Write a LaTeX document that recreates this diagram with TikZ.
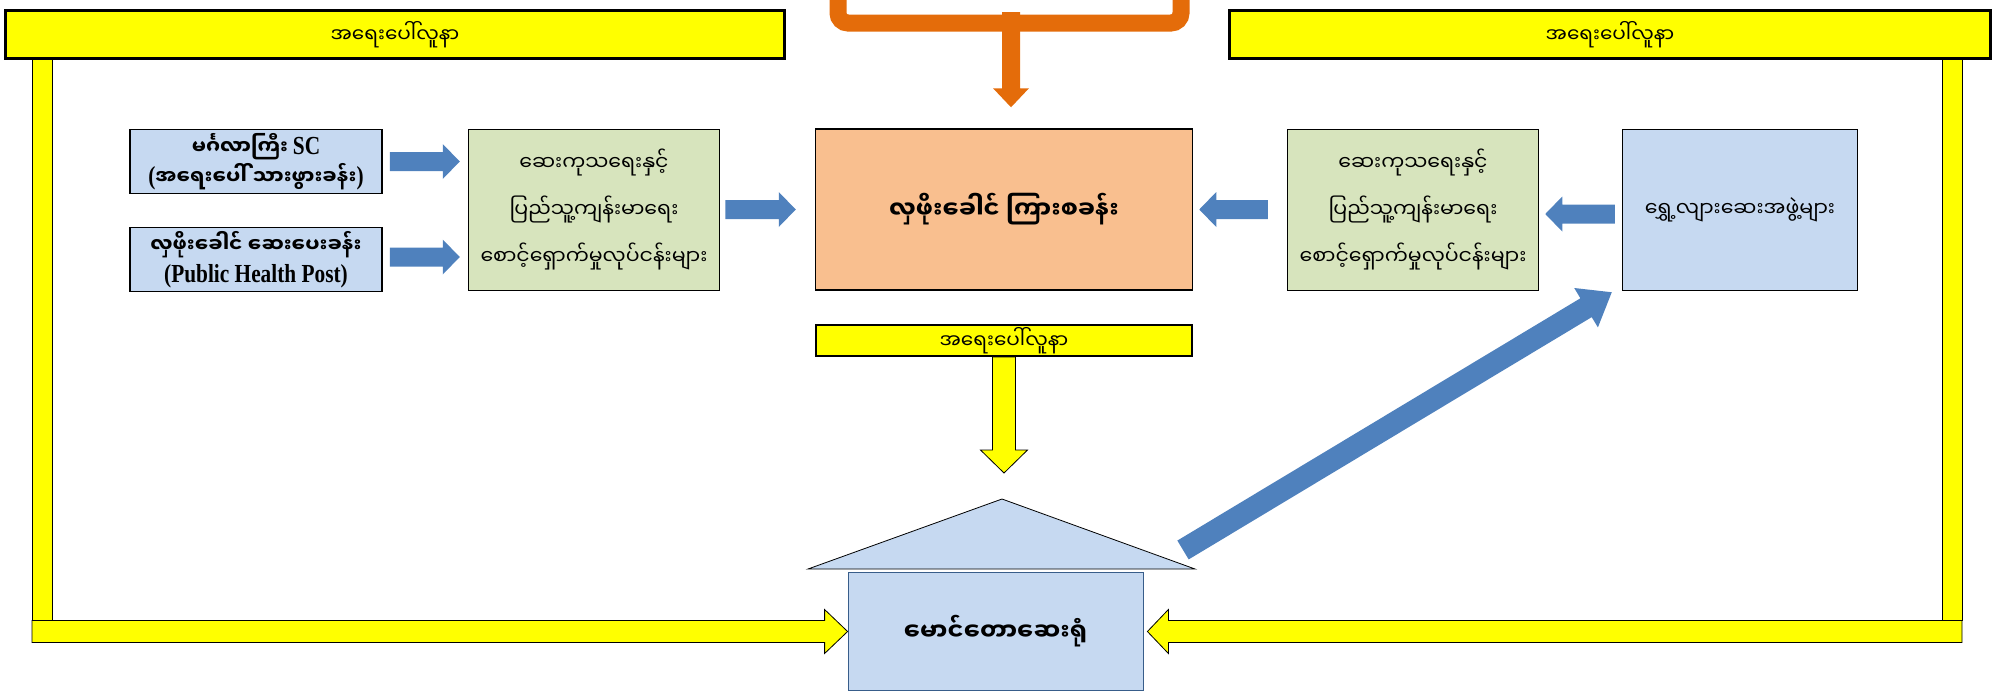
\documentclass[tikz,border=0pt]{standalone}
\usepackage{fontspec}
\setmainfont{Liberation Serif}
\newfontfamily\mm[Script=Myanmar]{Noto Sans Myanmar UI}
\newfontfamily\latn[FakeStretch=0.82]{Liberation Serif}
\usetikzlibrary{calc}

\definecolor{ylw}{HTML}{FFFF00}
\definecolor{boxblue}{HTML}{C6D9F1}
\definecolor{boxgreen}{HTML}{D7E4BD}
\definecolor{boxpeach}{HTML}{F9BF8F}
\definecolor{brkorange}{HTML}{E46C0A}
\definecolor{arrblue}{HTML}{4F81BD}
\definecolor{hospline}{HTML}{385D8A}

% block arrow: style, from, to, half bar, half head, head length
\newcommand{\blockarr}[6]{%
  \path[#1] ($#2!#4!90:#3$) -- ($#3!#6!#2!#4!90:#3$) -- ($#3!#6!#2!#5!90:#3$) -- #3
    -- ($#3!#6!#2!#5!-90:#3$) -- ($#3!#6!#2!#4!-90:#3$) -- ($#2!#4!-90:#3$) -- cycle;}
\newcommand{\lt}[1]{{\latn\fontsize{26}{30}\selectfont #1}}

\tikzset{
  banner/.style={draw=black, line width=2.5pt, fill=ylw, minimum height=48pt, inner sep=0pt, font=\mm\fontsize{20}{24}\selectfont},
  smallban/.style={draw=black, line width=2pt, fill=ylw, minimum width=376pt, minimum height=31pt, inner sep=0pt, font=\mm\fontsize{20}{24}\selectfont},
  bluebox/.style={draw=black, line width=1.5pt, fill=boxblue, minimum width=252pt, minimum height=64pt, inner sep=0pt, align=center, font=\bfseries\fontsize{20}{30}\selectfont},
  greenbox/.style={draw=black, line width=1.5pt, fill=boxgreen, minimum width=251pt, minimum height=161pt, inner sep=0pt, align=center, font=\mm\fontsize{20.5}{47}\selectfont},
  campbox/.style={draw=black, line width=1.5pt, fill=boxpeach, minimum width=377pt, minimum height=161pt, inner sep=0pt, font=\mm\bfseries\fontsize{24}{28}\selectfont},
  mobilebox/.style={draw=black, line width=1.5pt, fill=boxblue, minimum width=235pt, minimum height=161pt, inner sep=0pt, font=\mm\fontsize{20.5}{24}\selectfont},
  hospbox/.style={draw=hospline, line width=0.8pt, fill=boxblue, minimum width=295pt, minimum height=118pt, inner sep=0pt, font=\mm\bfseries\fontsize{24}{28}\selectfont},
  roof/.style={draw=black, line width=0.8pt, fill=boxblue},
  brk/.style={draw=brkorange, line width=17pt, rounded corners=10pt},
  org/.style={fill=brkorange},
  blu/.style={fill=arrblue},
  yel/.style={draw=black, line width=0.8pt, fill=ylw}
}

\begin{document}
\begin{tikzpicture}[x=1pt,y=-1pt]
\clip (0,0) rectangle (1993,699);
% bracket at the top
\draw[brk] (838,-30) -- (838,23) -- (1181,23) -- (1181,-30);
\coordinate (ostart) at (1011,12);

\node[banner, minimum width=779pt] (lban) at (395,34.5) {အရေးပေါ်လူနာ};
\node[banner, minimum width=761pt] (rban) at (1610,34.5) {အရေးပေါ်လူနာ};

\node[bluebox] (sc) at (256,161.5) {{\mm မင်္ဂလာကြီး} \lt{SC}\\\lt{(}{\mm အရေးပေါ် သားဖွားခန်း}\lt{)}};
\node[bluebox] (php) at (256,259.5) {{\mm လှဖိုးခေါင် ဆေးပေးခန်း}\\\lt{(Public Health Post)}};
\node[greenbox] (grl) at (594,210) {ဆေးကုသရေးနှင့်\\ပြည်သူ့ကျန်းမာရေး\\စောင့်ရှောက်မှုလုပ်ငန်းများ};
\node[campbox] (camp) at (1004,209.5) {လှဖိုးခေါင် ကြားစခန်း};
\node[greenbox] (grr) at (1413,210) {ဆေးကုသရေးနှင့်\\ပြည်သူ့ကျန်းမာရေး\\စောင့်ရှောက်မှုလုပ်ငန်းများ};
\node[mobilebox] (mobile) at (1740,210) {ရွှေ့လျားဆေးအဖွဲ့များ};
\node[smallban] (sban) at (1004,340.5) {အရေးပေါ်လူနာ};

% house
\coordinate (apex) at (1002,499);
\coordinate (eaveL) at (808,569);
\coordinate (eaveR) at (1195,569);
\draw[roof] (eaveL) -- (apex) -- (eaveR) -- cycle;
\node[hospbox] (hosp) at (995.5,631.5) {မောင်တောဆေးရုံ};

% blue arrows
\coordinate (a1) at ([xshift=7pt]sc.east);
\coordinate (b1) at ([xshift=-8pt]grl.west |- a1);
\coordinate (a2) at ([xshift=7pt,yshift=2.5pt]php.east);
\coordinate (b2) at ([xshift=-8pt]grl.west |- a2);
\coordinate (a3) at ([xshift=5pt]grl.east |- camp.west);
\coordinate (b3) at ([xshift=-19pt]camp.west);
\coordinate (a4) at ([xshift=-19pt]grr.west |- camp.east);
\coordinate (b4) at ([xshift=6pt]camp.east);
\coordinate (a5) at ([xshift=-7pt,yshift=-4pt]mobile.west);
\coordinate (b5) at ([xshift=6pt]grr.east |- a5);
\foreach \s/\t in {a1/b1,a2/b2,a3/b3,a4/b4,a5/b5}
  \blockarr{blu}{(\s)}{(\t)}{9.5pt}{17.5pt}{17pt};
\coordinate (dstart) at ([xshift=-12pt,yshift=19pt]eaveR);
\coordinate (dtip) at ([xshift=-10pt,yshift=-1pt]mobile.south west);
\blockarr{blu}{(dstart)}{(dtip)}{11pt}{23pt}{30pt};

% orange arrow
\coordinate (otip) at ([xshift=7pt,yshift=21pt]camp.north);
\blockarr{org}{(ostart)}{(otip)}{9pt}{18pt}{19pt};

% yellow arrows
\coordinate (ytip) at ([yshift=26pt]apex -| sban.south);
\blockarr{yel}{(sban.south)}{(ytip)}{11.5pt}{23.5pt}{23pt};
\coordinate (lfoot) at (32,631.5);
\coordinate (rfoot) at (1962,631.5);
\coordinate (htip) at ([xshift=4pt]hosp.east);
\draw[yel] (lfoot |- lban.south) rectangle ([xshift=20pt,yshift=11pt]lfoot);
\draw[yel] (rfoot |- rban.south) rectangle ([xshift=-20pt,yshift=11pt]rfoot);
\blockarr{yel}{(lfoot)}{(hosp.west)}{11pt}{22pt}{23pt};
\blockarr{yel}{(rfoot)}{(htip)}{11pt}{22pt}{21pt};
\end{tikzpicture}
\end{document}
